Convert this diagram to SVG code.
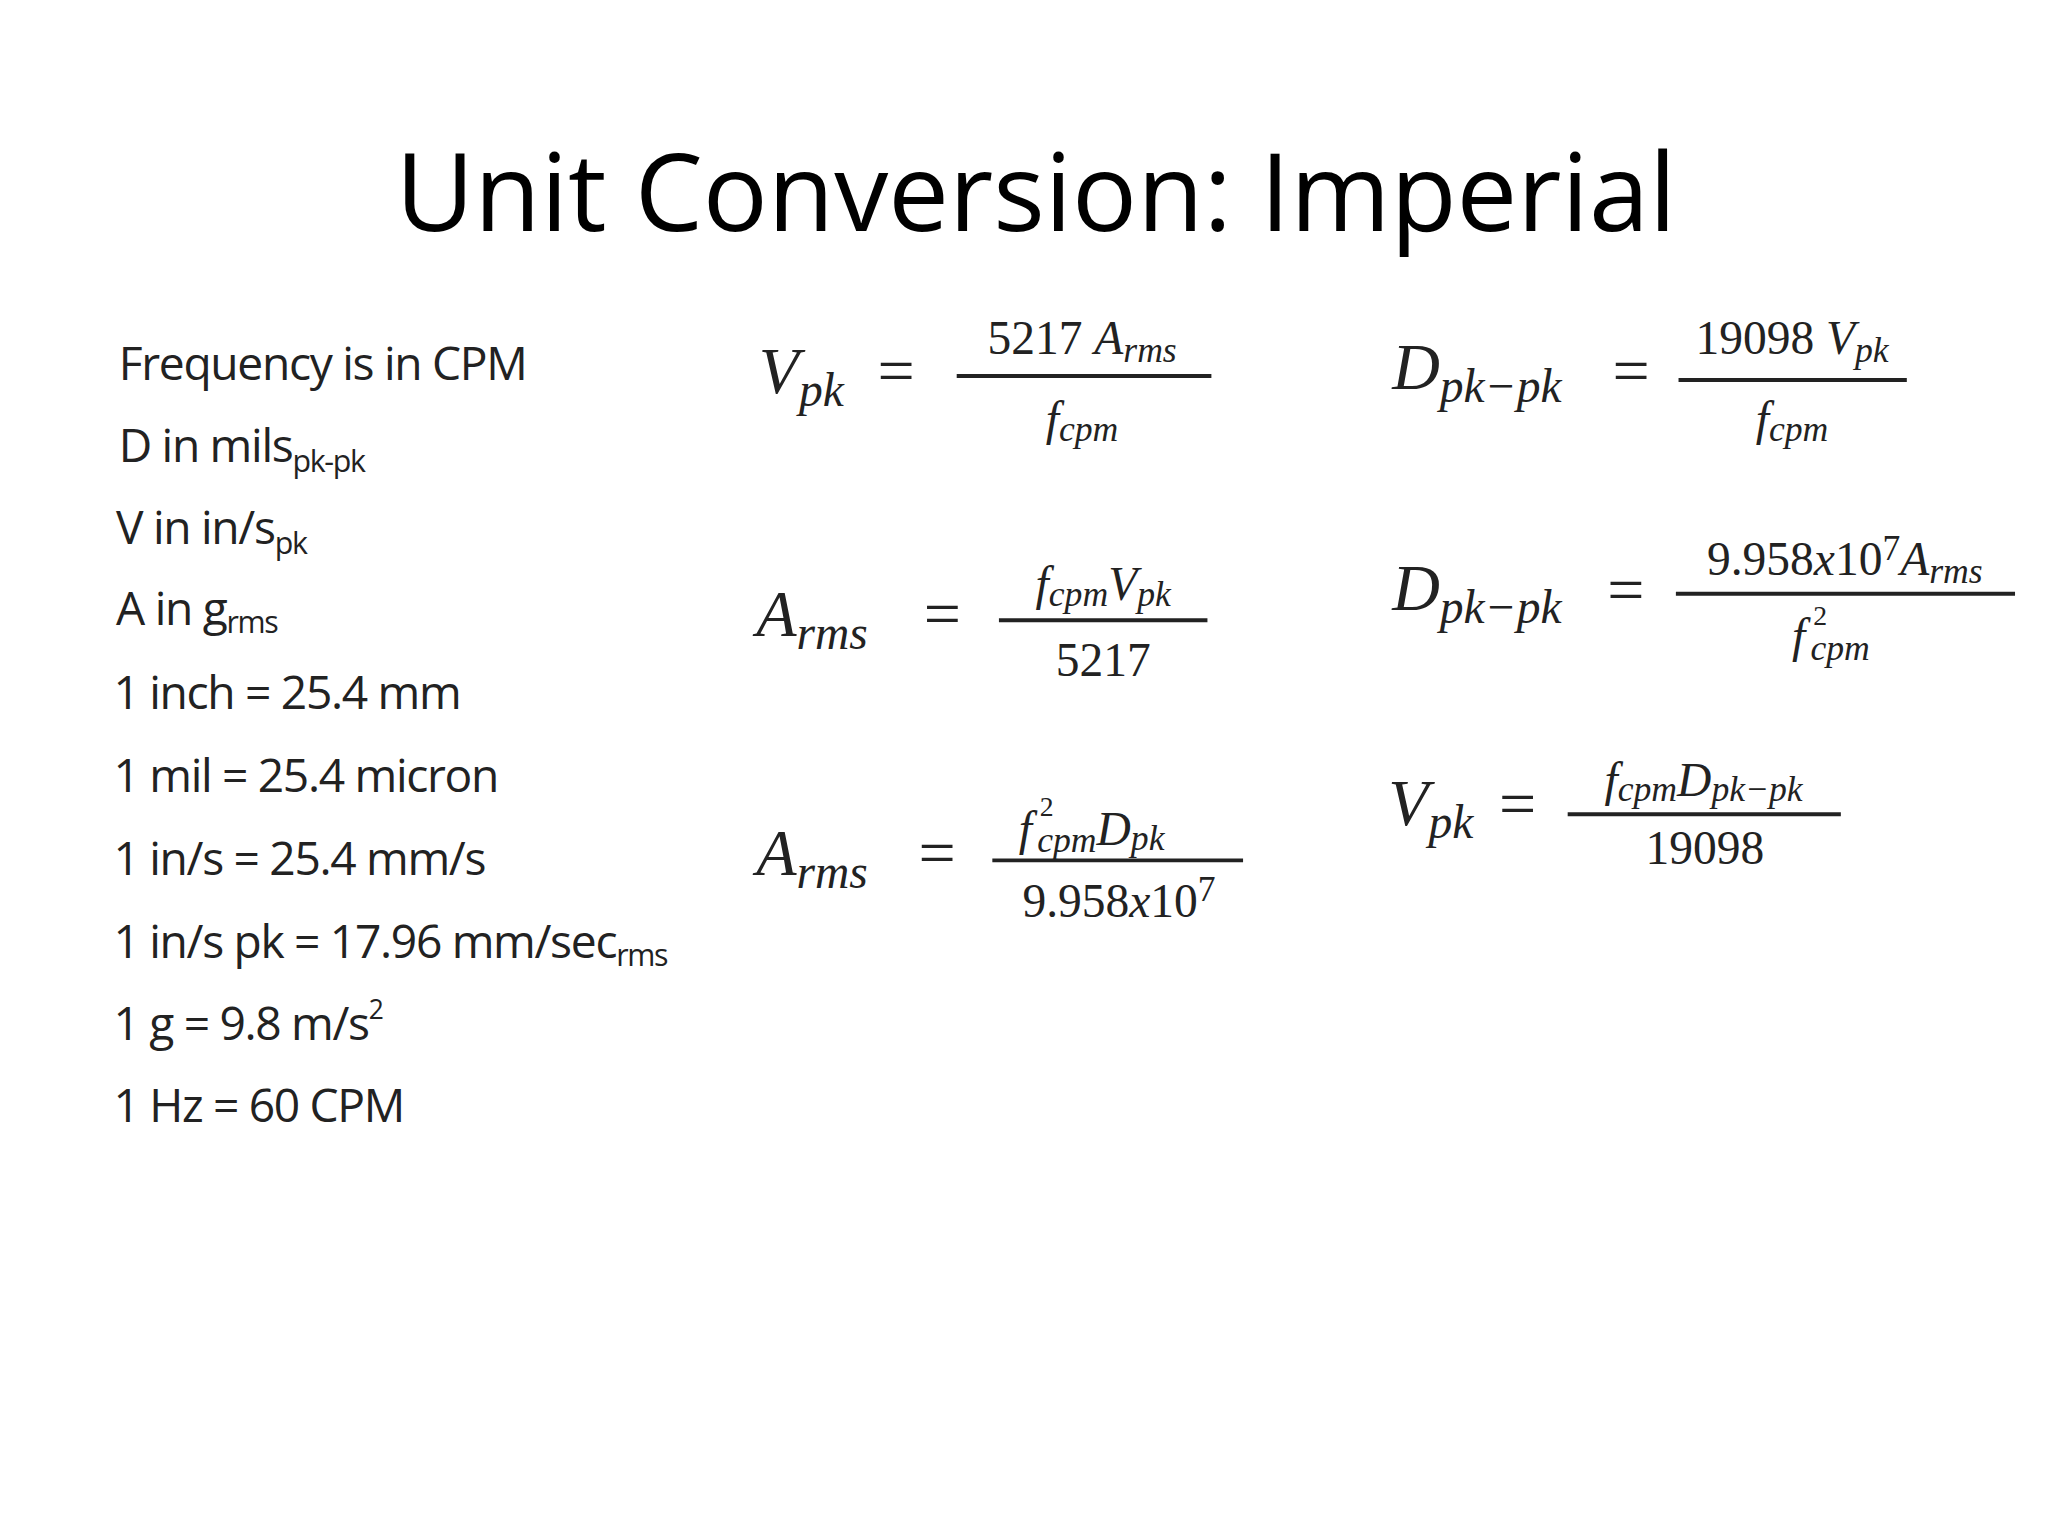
<svg xmlns="http://www.w3.org/2000/svg" width="2048" height="1536" viewBox="0 0 2048 1536">
<style>
.t{font-family:"Open Sans","Liberation Sans",sans-serif;fill:#000}
.l{font-family:"Open Sans","Liberation Sans",sans-serif;font-size:35px;fill:#222;letter-spacing:-1px}
.m{font-family:"Liberation Serif","DejaVu Serif",serif;font-style:italic;fill:#222}
.n{font-family:"Liberation Serif","DejaVu Serif",serif;font-style:normal;fill:#222}
.b{font-size:50px}.s{font-size:36px}.q{font-size:36px}.ss{font-size:27px}.sp{font-size:21px}
.fl{stroke:#222;stroke-width:3}
</style>
<rect width="2048" height="1536" fill="#fff"/>
<g transform="scale(1.3196)">
<g id="title"><text class="t" x="785" y="175" text-anchor="middle" font-size="82">Unit Conversion: Imperial</text></g>
<g id="list">
<text class="l" x="90" y="288">Frequency is in CPM</text>
<text class="l" x="90" y="350">D in mils<tspan font-size="23" dy="8">pk-pk</tspan></text>
<text class="l" x="88" y="412">V in in/s<tspan font-size="23" dy="8">pk</tspan></text>
<text class="l" x="88" y="474">A in g<tspan font-size="23" dy="6">rms</tspan></text>
<text class="l" x="86" y="537">1 inch = 25.4 mm</text>
<text class="l" x="86" y="600">1 mil = 25.4 micron</text>
<text class="l" x="86" y="663">1 in/s = 25.4 mm/s</text>
<text class="l" x="86" y="726">1 in/s pk = 17.96 mm/sec<tspan font-size="23" dy="6">rms</tspan></text>
<text class="l" x="86" y="788">1 g = 9.8 m/s<tspan font-size="20" dy="-16">2</tspan></text>
<text class="l" x="86" y="850">1 Hz = 60 CPM</text>
</g>
<g id="f1">
<text class="m b" x="575" y="298">V<tspan class="s" dy="10">pk</tspan></text>
<text class="n b" x="665" y="298">=</text>
<line class="fl" x1="725" y1="285" x2="918" y2="285"/>
<text class="n q" x="820" y="268" text-anchor="middle">5217 <tspan class="m">A</tspan><tspan class="m ss" dy="6">rms</tspan></text>
<text class="m q" x="820" y="330" text-anchor="middle">f<tspan class="ss" dy="4">cpm</tspan></text>
</g>
<g id="f2">
<text class="m b" x="573" y="482">A<tspan class="s" dy="10">rms</tspan></text>
<text class="n b" x="700" y="482">=</text>
<line class="fl" x1="757" y1="470" x2="915" y2="470"/>
<text class="m q" x="836" y="455" text-anchor="middle">f<tspan class="ss" dy="4">cpm</tspan><tspan dy="-4">V</tspan><tspan class="ss" dy="4">pk</tspan></text>
<text class="n q" x="836" y="512" text-anchor="middle">5217</text>
</g>
<g id="f3">
<text class="m b" x="573" y="663">A<tspan class="s" dy="10">rms</tspan></text>
<text class="n b" x="696" y="663">=</text>
<line class="fl" x1="752" y1="652" x2="942" y2="652"/>
<text class="m q" x="772" y="640">f</text>
<text class="n sp" x="788" y="618">2</text>
<text class="m q" x="786" y="640"><tspan class="ss" dy="6">cpm</tspan><tspan dy="-6">D</tspan><tspan class="ss" dy="4">pk</tspan></text>
<text class="n q" x="848" y="695" text-anchor="middle">9.958<tspan class="m">x</tspan>10<tspan class="ss" dy="-12">7</tspan></text>
</g>
<g id="f4">
<text class="m b" x="1055" y="295">D<tspan class="s" dy="10">pk−pk</tspan></text>
<text class="n b" x="1222" y="298">=</text>
<line class="fl" x1="1272" y1="288" x2="1445" y2="288"/>
<text class="n q" x="1358" y="268" text-anchor="middle">19098 <tspan class="m">V</tspan><tspan class="m ss" dy="6">pk</tspan></text>
<text class="m q" x="1358" y="330" text-anchor="middle">f<tspan class="ss" dy="4">cpm</tspan></text>
</g>
<g id="f5">
<text class="m b" x="1055" y="462">D<tspan class="s" dy="10">pk−pk</tspan></text>
<text class="n b" x="1218" y="464">=</text>
<line class="fl" x1="1270" y1="450" x2="1527" y2="450"/>
<text class="n q" x="1398" y="436" text-anchor="middle">9.958<tspan class="m">x</tspan>10<tspan class="ss" dy="-12">7</tspan><tspan class="m" dy="12">A</tspan><tspan class="m ss" dy="6">rms</tspan></text>
<text class="m q" x="1358" y="494">f</text>
<text class="n sp" x="1374" y="474">2</text>
<text class="m ss" x="1372" y="500">cpm</text>
</g>
<g id="f6">
<text class="m b" x="1052" y="625">V<tspan class="s" dy="10">pk</tspan></text>
<text class="n b" x="1136" y="626">=</text>
<line class="fl" x1="1188" y1="617" x2="1395" y2="617"/>
<text class="m q" x="1291" y="603" text-anchor="middle">f<tspan class="ss" dy="4">cpm</tspan><tspan dy="-4">D</tspan><tspan class="ss" dy="4">pk−pk</tspan></text>
<text class="n q" x="1292" y="655" text-anchor="middle">19098</text>
</g>
</g>
</svg>
